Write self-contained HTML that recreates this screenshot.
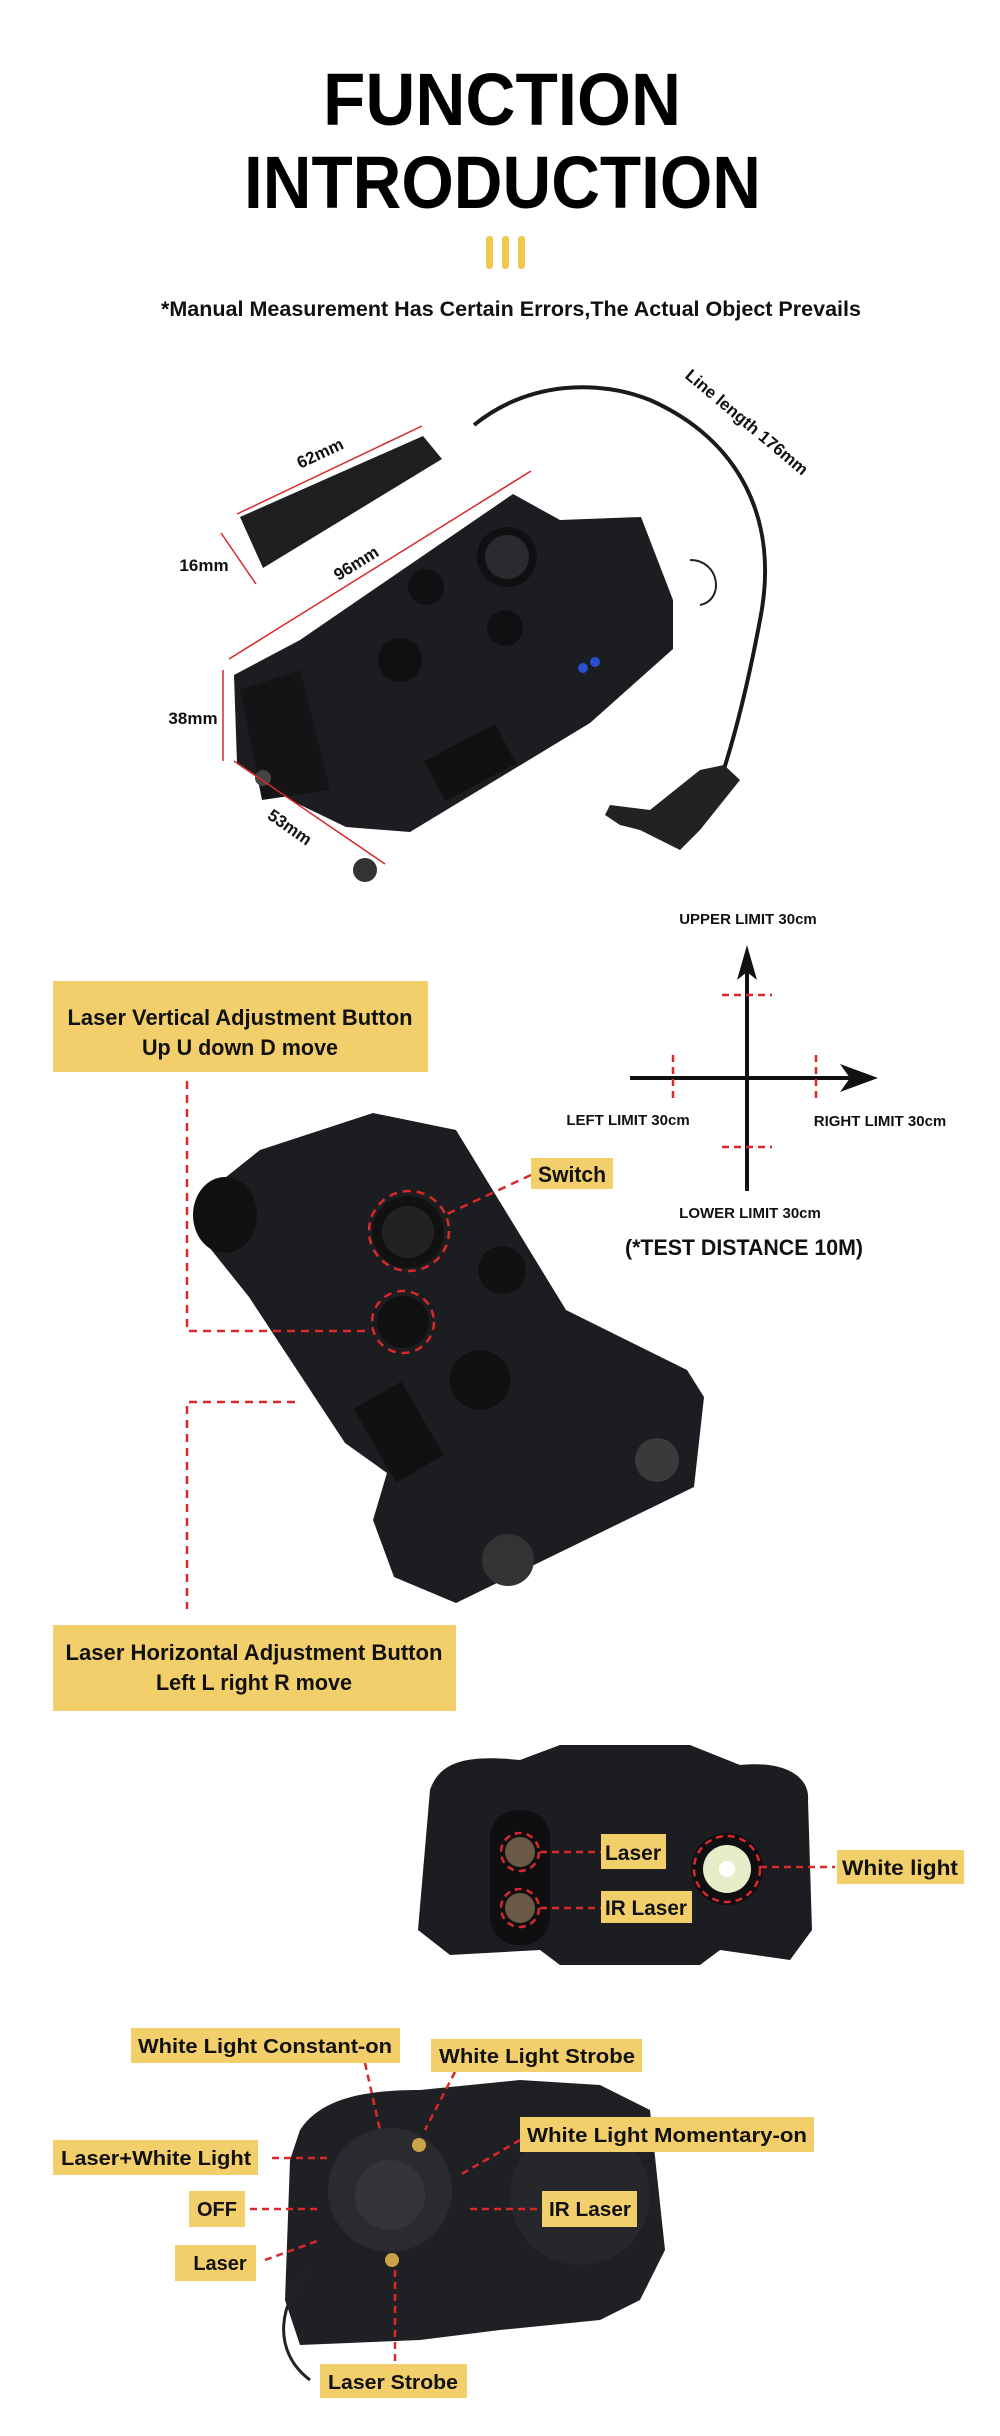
<!DOCTYPE html>
<html><head><meta charset="utf-8"><style>
html,body{margin:0;padding:0;background:#fff;}
svg{display:block;}
text{font-family:"Liberation Sans",sans-serif;font-weight:bold;}
</style></head><body>
<svg width="1000" height="2436" viewBox="0 0 1000 2436" xmlns="http://www.w3.org/2000/svg">
<rect width="1000" height="2436" fill="#fff"/>
<!-- Title -->
<text x="323" y="125" font-size="74" textLength="358" lengthAdjust="spacingAndGlyphs" font-weight="900" fill="#000">FUNCTION</text>
<text x="244" y="208" font-size="74" textLength="517" lengthAdjust="spacingAndGlyphs" fill="#000">INTRODUCTION</text>
<g fill="#f1c84f"><rect x="486" y="236" width="7" height="33" rx="3"/><rect x="502" y="236" width="7" height="33" rx="3"/><rect x="518" y="236" width="7" height="33" rx="3"/></g>
<text x="161" y="316" font-size="21" textLength="700" lengthAdjust="spacingAndGlyphs" fill="#111">*Manual Measurement Has Certain Errors,The Actual Object Prevails</text>

<!-- Product 1 -->
<path d="M474 425 C530 380 600 380 650 400 C740 440 780 520 760 620 C745 700 730 750 724 769" stroke="#1a1a1a" stroke-width="4" fill="none"/>
<path d="M724 765 L740 780 L700 830 L680 850 L660 840 L640 830 L620 825 L605 815 L610 805 L650 810 L700 770 Z" fill="#222"/>
<polygon points="240,517 423,436 442,459 263,568" fill="#1f1f21"/>
<path d="M690 560 C720 560 725 600 700 605" stroke="#222" stroke-width="2" fill="none"/>
<polygon points="234,675 300,640 513,494 560,520 641,517 673,600 673,649 590,723 410,832 346,827 290,800 237,764" fill="#1c1d20"/>
<polygon points="240,690 300,670 330,790 262,800" fill="#141416"/>
<circle cx="507" cy="557" r="30" fill="#101012"/><circle cx="507" cy="557" r="22" fill="#2a2b2e"/>
<circle cx="426" cy="587" r="18" fill="#101012"/><circle cx="505" cy="628" r="18" fill="#101012"/>
<circle cx="400" cy="660" r="22" fill="#101012"/>
<rect x="430" y="740" width="80" height="45" fill="#111" transform="rotate(-28 470 762)"/>
<circle cx="583" cy="668" r="5" fill="#2a4fd0"/><circle cx="595" cy="662" r="5" fill="#2a4fd0"/>
<circle cx="365" cy="870" r="12" fill="#333"/><circle cx="263" cy="778" r="8" fill="#444"/>
<g stroke="#d9282a" stroke-width="1.5" fill="#d9282a">
<line x1="237" y1="514" x2="422" y2="426"/><line x1="221" y1="533" x2="256" y2="584"/>
<line x1="229" y1="659" x2="531" y2="471"/><line x1="223" y1="670" x2="223" y2="761"/>
<line x1="234" y1="761" x2="385" y2="864"/>
</g>
<g font-size="17" fill="#111" font-weight="bold">
<text x="320" y="459" text-anchor="middle" transform="rotate(-25 320 453)">62mm</text>
<text x="204" y="571" text-anchor="middle">16mm</text>
<text x="356" y="569" text-anchor="middle" transform="rotate(-32 356 563)">96mm</text>
<text x="193" y="724" text-anchor="middle">38mm</text>
<text x="290" y="833" text-anchor="middle" transform="rotate(35 290 827)">53mm</text>
<text x="747" y="428" text-anchor="middle" transform="rotate(40 747 422)">Line length 176mm</text>
</g>

<!-- Section 2 -->
<rect x="53" y="981" width="375" height="91" fill="#f3cf6c"/>
<text x="240" y="1025" font-size="22" text-anchor="middle" textLength="345" lengthAdjust="spacingAndGlyphs" fill="#111">Laser Vertical Adjustment Button</text>
<text x="240" y="1055" font-size="22" text-anchor="middle" textLength="196" lengthAdjust="spacingAndGlyphs" fill="#111">Up U down D move</text>
<rect x="53" y="1625" width="403" height="86" fill="#f3cf6c"/>
<text x="254" y="1660" font-size="22" text-anchor="middle" textLength="377" lengthAdjust="spacingAndGlyphs" fill="#111">Laser Horizontal Adjustment Button</text>
<text x="254" y="1690" font-size="22" text-anchor="middle" textLength="196" lengthAdjust="spacingAndGlyphs" fill="#111">Left L right R move</text>

<polygon points="201,1197 260,1150 373,1113 456,1130 566,1310 687,1370 704,1397 694,1487 456,1603 394,1577 373,1520 387,1473 345,1443 249,1297 201,1237" fill="#1c1d20"/>
<ellipse cx="225" cy="1215" rx="32" ry="38" fill="#111"/>
<circle cx="408" cy="1232" r="36" fill="#111"/><circle cx="408" cy="1232" r="26" fill="#222"/>
<circle cx="403" cy="1322" r="26" fill="#111"/><circle cx="502" cy="1270" r="24" fill="#111"/>
<circle cx="480" cy="1380" r="30" fill="#111"/>
<rect x="370" y="1390" width="55" height="85" fill="#111" transform="rotate(-30 397 1430)"/>
<circle cx="657" cy="1460" r="22" fill="#3a3a3c"/><circle cx="508" cy="1560" r="26" fill="#333"/>
<g stroke="#d9282a" stroke-width="2.5" fill="none" stroke-dasharray="8,6">
<circle cx="409" cy="1231" r="40"/><circle cx="403" cy="1322" r="31"/>
<polyline points="187,1081 187,1331 370,1331"/>
<polyline points="295,1402 187,1402 187,1609"/>
<line x1="531" y1="1175" x2="445" y2="1215"/>
</g>
<rect x="531" y="1158" width="82" height="31" fill="#f3cf6c"/>
<text x="572" y="1182" font-size="22" text-anchor="middle" textLength="68" lengthAdjust="spacingAndGlyphs" fill="#111">Switch</text>

<!-- Crosshair -->
<g stroke="#111" stroke-width="4"><line x1="747" y1="965" x2="747" y2="1191"/><line x1="630" y1="1078" x2="860" y2="1078"/></g>
<polygon points="747,945 737,980 747,972 757,980" fill="#111"/>
<polygon points="878,1078 840,1064 850,1078 840,1092" fill="#111"/>
<g stroke="#d9282a" stroke-width="2.5" stroke-dasharray="7,5">
<line x1="722" y1="995" x2="772" y2="995"/><line x1="722" y1="1147" x2="772" y2="1147"/>
<line x1="673" y1="1055" x2="673" y2="1102"/><line x1="816" y1="1055" x2="816" y2="1102"/>
</g>
<g font-size="15" fill="#111" text-anchor="middle">
<text x="748" y="924">UPPER LIMIT 30cm</text>
<text x="628" y="1125">LEFT LIMIT 30cm</text>
<text x="880" y="1126">RIGHT LIMIT 30cm</text>
<text x="750" y="1218">LOWER LIMIT 30cm</text>
</g>
<text x="744" y="1255" font-size="22" text-anchor="middle" textLength="238" lengthAdjust="spacingAndGlyphs" fill="#111">(*TEST DISTANCE 10M)</text>

<!-- Product 3 -->
<path d="M430 1790 C440 1760 470 1755 520 1760 L560 1745 L690 1745 L740 1765 C790 1760 810 1780 808 1800 L812 1930 L790 1960 L720 1950 L700 1965 L560 1965 L540 1950 L450 1955 L418 1930 Z" fill="#1c1d20"/>
<rect x="490" y="1810" width="60" height="135" rx="28" fill="#0f0f11"/>
<circle cx="520" cy="1852" r="15" fill="#6a5a45"/><circle cx="520" cy="1908" r="15" fill="#6a5a45"/>
<circle cx="727" cy="1869" r="36" fill="#0f0f11"/><circle cx="727" cy="1869" r="24" fill="#e8ecc8"/><circle cx="727" cy="1869" r="8" fill="#fff"/>
<g stroke="#d9282a" stroke-width="2.5" fill="none" stroke-dasharray="7,5">
<circle cx="520" cy="1852" r="19"/><circle cx="520" cy="1908" r="19"/><circle cx="727" cy="1869" r="33"/>
<line x1="540" y1="1852" x2="601" y2="1852"/><line x1="540" y1="1908" x2="601" y2="1908"/>
<line x1="760" y1="1867" x2="835" y2="1867"/>
</g>
<rect x="601" y="1834" width="65" height="35" fill="#f3cf6c"/><text x="633" y="1860" font-size="21" text-anchor="middle" fill="#111">Laser</text>
<rect x="601" y="1891" width="91" height="32" fill="#f3cf6c"/><text x="646" y="1915" font-size="21" text-anchor="middle" textLength="82" lengthAdjust="spacingAndGlyphs" fill="#111">IR Laser</text>
<rect x="837" y="1850" width="127" height="34" fill="#f3cf6c"/><text x="900" y="1875" font-size="21" text-anchor="middle" textLength="116" lengthAdjust="spacingAndGlyphs" fill="#111">White light</text>

<!-- Product 4 -->
<path d="M300 2130 C320 2100 360 2090 420 2090 L520 2080 L600 2085 L650 2110 L665 2250 L640 2300 L600 2320 L500 2330 L420 2340 L300 2345 L285 2300 L290 2160 Z" fill="#1f2023"/>
<circle cx="390" cy="2190" r="62" fill="#2a2b2e"/><circle cx="390" cy="2195" r="35" fill="#343538"/>
<circle cx="580" cy="2195" r="70" fill="#26272a"/>
<circle cx="419" cy="2145" r="7" fill="#c9a24a"/><circle cx="392" cy="2260" r="7" fill="#c9a24a"/>
<path d="M310 2270 C280 2300 270 2350 310 2380" stroke="#222" stroke-width="3" fill="none"/>
<g stroke="#d9282a" stroke-width="2.5" fill="none" stroke-dasharray="7,5">
<line x1="365" y1="2063" x2="380" y2="2130"/><line x1="455" y1="2072" x2="425" y2="2130"/>
<line x1="520" y1="2140" x2="460" y2="2175"/><line x1="272" y1="2158" x2="330" y2="2158"/>
<line x1="250" y1="2209" x2="320" y2="2209"/><line x1="265" y1="2260" x2="320" y2="2240"/>
<line x1="395" y1="2270" x2="395" y2="2364"/><line x1="470" y1="2209" x2="542" y2="2209"/>
</g>
<g font-size="20" fill="#111">
<rect x="131" y="2028" width="269" height="35" fill="#f3cf6c"/><text x="265" y="2053" text-anchor="middle" textLength="254" lengthAdjust="spacingAndGlyphs">White Light Constant-on</text>
<rect x="431" y="2039" width="211" height="33" fill="#f3cf6c"/><text x="537" y="2063" text-anchor="middle" textLength="196" lengthAdjust="spacingAndGlyphs">White Light Strobe</text>
<rect x="520" y="2117" width="294" height="35" fill="#f3cf6c"/><text x="667" y="2142" text-anchor="middle" textLength="280" lengthAdjust="spacingAndGlyphs">White Light Momentary-on</text>
<rect x="53" y="2140" width="205" height="35" fill="#f3cf6c"/><text x="156" y="2165" text-anchor="middle" textLength="190" lengthAdjust="spacingAndGlyphs">Laser+White Light</text>
<rect x="189" y="2191" width="56" height="36" fill="#f3cf6c"/><text x="217" y="2216" text-anchor="middle">OFF</text>
<rect x="175" y="2245" width="81" height="36" fill="#f3cf6c"/><text x="220" y="2270" text-anchor="middle">Laser</text>
<rect x="542" y="2191" width="95" height="36" fill="#f3cf6c"/><text x="590" y="2216" text-anchor="middle" textLength="82" lengthAdjust="spacingAndGlyphs">IR Laser</text>
<rect x="320" y="2364" width="147" height="34" fill="#f3cf6c"/><text x="393" y="2389" text-anchor="middle" textLength="130" lengthAdjust="spacingAndGlyphs">Laser Strobe</text>
</g>
</svg>
</body></html>
